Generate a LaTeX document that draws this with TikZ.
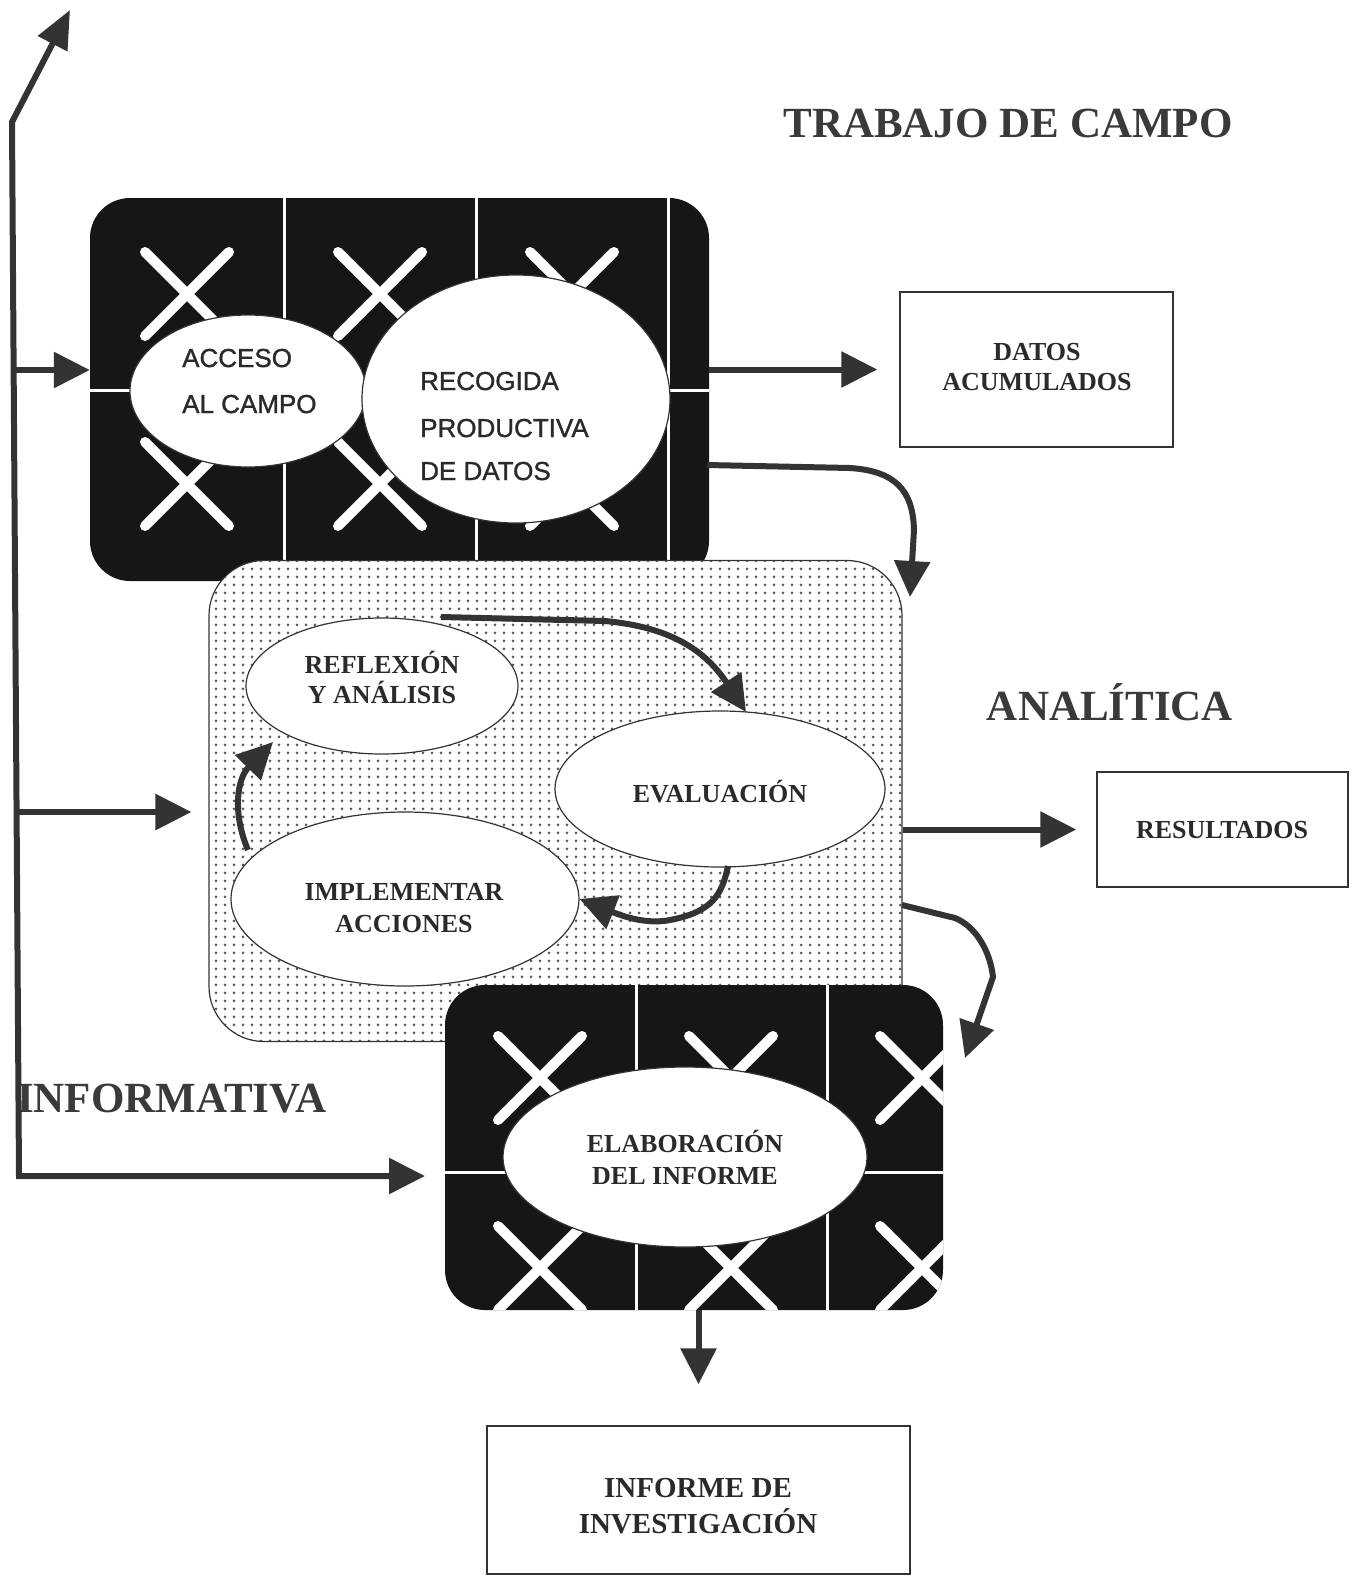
\documentclass[tikz,border=0pt]{standalone}
\usepackage{fontspec}
\setmainfont{Liberation Serif}
\newfontfamily\arialfont[FakeBold=1.2]{Liberation Sans}
\usetikzlibrary{arrows.meta,shapes.geometric,patterns}
\pgfdeclarepatternformonly{bigdots}{\pgfqpoint{-2pt}{-2pt}}{\pgfqpoint{2pt}{2pt}}{\pgfqpoint{9pt}{8pt}}{\pgfpathcircle{\pgfqpoint{0pt}{0pt}}{1.5pt}\pgfusepath{fill}}
\definecolor{ink}{HTML}{333333}
\definecolor{boxc}{HTML}{161616}
\definecolor{dotc}{HTML}{5a5a5a}
\definecolor{titlec}{HTML}{3a3a3a}
\definecolor{labc}{HTML}{2a2a2a}
\begin{document}
\begin{tikzpicture}[x=1pt,y=-1pt,
  arr/.style={draw=ink, line width=6pt, line join=round, -{Triangle[length=36pt,width=35pt]}},
  darkbox/.style={fill=boxc, draw=none, rounded corners=40pt, inner sep=0pt},
  gridl/.style={draw=white, line width=3pt},
  xmark/.style={draw=white, line width=10pt, line cap=round},
  whiteell/.style={ellipse, draw=ink, line width=1.2pt, fill=white, inner sep=0pt},
  plainbox/.style={rectangle, draw=ink, line width=1.5pt, fill=white, inner sep=0pt},
  dotbox/.style={rectangle, draw=ink, line width=1.2pt, rounded corners=55pt, preaction={fill=white}, pattern=bigdots, pattern color=dotc, inner sep=0pt},
  titletext/.style={font=\fontsize{43}{48}\selectfont\bfseries, text=titlec, inner sep=0pt, anchor=base},
  lab/.style={font=\fontsize{26}{31}\selectfont\bfseries, text=labc, inner sep=0pt, anchor=base},
  biglab/.style={font=\fontsize{29}{36}\selectfont\bfseries, text=labc, inner sep=0pt, anchor=base},
  sanslab/.style={font=\arialfont\fontsize{26}{30}\selectfont, text=labc, inner sep=0pt, anchor=base west}
]
\useasboundingbox (0,0) rectangle (1359,1577);
\fill[white] (0,0) rectangle (1359,1577);

% ---------- top dark box ----------
\node[darkbox, minimum width=619pt, minimum height=383pt] (topbox) at (399.5,389.5) {};
\begin{scope}
  \clip[rounded corners=40pt] (90,198) rectangle (709,581);
  \draw[gridl] (284,198) -- (284,581) (476,198) -- (476,581) (668,198) -- (668,581) (90,390) -- (709,390);
  \foreach \cx in {187,380,572,764} \foreach \cy in {294,484} {
    \draw[xmark] (\cx-42,\cy-42) -- (\cx+42,\cy+42) (\cx-42,\cy+42) -- (\cx+42,\cy-42);
  }
\end{scope}
\node[whiteell, minimum width=236pt, minimum height=152pt] (acceso) at (248,391) {};
\node[whiteell, minimum width=308pt, minimum height=248pt] (recogida) at (516,399) {};
\node[sanslab] (acc1) at (182,367) {ACCESO};
\node[sanslab] (acc2) at (182,413) {AL CAMPO};
\node[sanslab] (rec1) at (420,390) {RECOGIDA};
\node[sanslab] (rec2) at (420,437) {PRODUCTIVA};
\node[sanslab] (rec3) at (420,480) {DE DATOS};

% ---------- middle dotted box ----------
\node[dotbox, minimum width=693pt, minimum height=481pt] (midbox) at (555.5,801) {};
\node[whiteell, minimum width=272pt, minimum height=136pt] (refl) at (382,686) {};
\node[whiteell, minimum width=330pt, minimum height=156pt] (eval) at (720,789) {};
\node[whiteell, minimum width=348pt, minimum height=174pt] (impl) at (405,899) {};
\node[lab] (refl1) at (382,673) {REFLEXIÓN};
\node[lab] (refl2) at (382,703) {Y ANÁLISIS};
\node[lab] (eval1) at (720,802) {EVALUACIÓN};
\node[lab] (impl1) at (404,900) {IMPLEMENTAR};
\node[lab] (impl2) at (404,932) {ACCIONES};

% ---------- bottom dark box ----------
\node[darkbox, minimum width=498pt, minimum height=325pt] (botbox) at (694,1147.5) {};
\begin{scope}
  \clip[rounded corners=40pt] (445,985) rectangle (943,1310);
  \draw[gridl] (636,985) -- (636,1310) (827,985) -- (827,1310) (445,1172) -- (943,1172);
  \foreach \cx in {540,731,922} \foreach \cy in {1078,1268} {
    \draw[xmark] (\cx-42,\cy-42) -- (\cx+42,\cy+42) (\cx-42,\cy+42) -- (\cx+42,\cy-42);
  }
\end{scope}
\node[whiteell, minimum width=364pt, minimum height=180pt] (elab) at (685,1157) {};
\node[lab] (elab1) at (685,1152) {ELABORACIÓN};
\node[lab] (elab2) at (685,1184) {DEL INFORME};

% ---------- result boxes ----------
\node[plainbox, minimum width=273pt, minimum height=155pt] (datos) at (1036.5,369.5) {};
\node[lab] (dat1) at (1037,360) {DATOS};
\node[lab] (dat2) at (1037,390) {ACUMULADOS};
\node[plainbox, minimum width=251pt, minimum height=115pt] (resul) at (1222.5,829.5) {};
\node[lab] (res1) at (1222,838) {RESULTADOS};
\node[plainbox, minimum width=423pt, minimum height=148pt] (informe) at (698.5,1500) {};
\node[biglab] (inf1) at (698,1497) {INFORME DE};
\node[biglab] (inf2) at (698,1533) {INVESTIGACIÓN};

% ---------- titles ----------
\node[titletext] (ttrab) at (1008,137) {TRABAJO DE CAMPO};
\node[titletext] (tanal) at (1110,720) {ANALÍTICA};
\node[titletext, anchor=base west] (tinfo) at (17,1112) {INFORMATIVA};

% ---------- left spine ----------
\coordinate (ltip) at (70,10);
\coordinate (ltop) at (12,122);
\coordinate (lbot) at (19,1176);
\coordinate (lend) at (425,1176);
\draw[draw=ink, line width=6pt, line join=miter, {Triangle[length=38pt,width=32pt]}-{Triangle[length=36pt,width=35pt]}] (ltip) -- (ltop) -- (lbot) -- (lend);
\coordinate (la1) at (14,370);
\coordinate (la2) at (17,812);
\draw[arr] (la1) -- (la1 -| topbox.west);
\draw[arr, shorten >=17pt] (la2) -- (la2 -| midbox.west);

% ---------- outgoing arrows ----------
\draw[arr, shorten >=22pt] (topbox.east |- datos.west) -- (datos.west);
\draw[arr, shorten >=20pt] (midbox.east |- resul.west) -- (resul.west);
\draw[arr, shorten >=41pt] (botbox.south -| informe.north) -- (informe.north);

\coordinate (c1s) at (707,465);
\coordinate (c1e) at (910,597);
\draw[arr] (c1s) -- (850,468) .. controls (895,471) and (913,490) .. (914,530) -- (c1e);
\coordinate (c2s) at (902,905);
\coordinate (c2e) at (965,1058);
\draw[arr] (c2s) -- (955,918) .. controls (975,926) and (990,950) .. (993,977) -- (c2e);

% ---------- inner cycle ----------
\coordinate (i1s) at (441,617);
\coordinate (i1e) at (746,712);
\draw[arr] (i1s) -- (605,621) .. controls (670,627) and (705,650) .. (i1e);
\coordinate (i2s) at (728,866);
\draw[arr] (i2s) .. controls (722,895) and (712,912) .. (670,920) .. controls (645,925) and (620,915) .. (impl.east);
\coordinate (i3s) at (248,850);
\coordinate (i3e) at (273,742);
\draw[arr] (i3s) .. controls (233,815) and (236,780) .. (i3e);
\end{tikzpicture}
\end{document}
